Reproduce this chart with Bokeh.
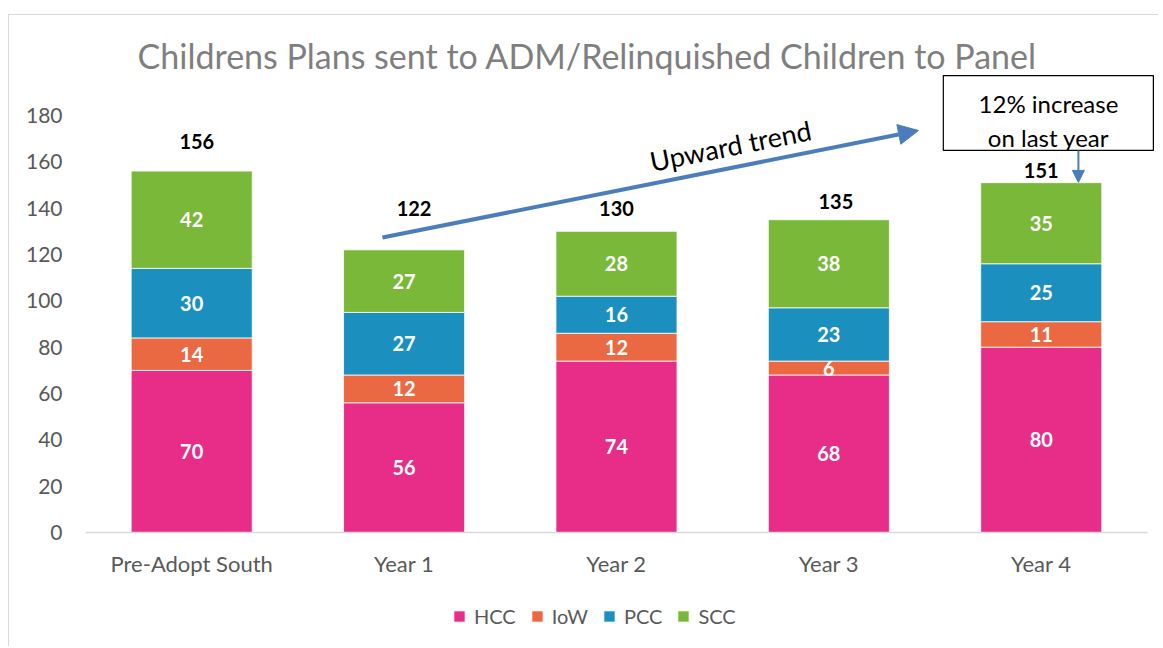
import numpy as np
from bokeh.plotting import figure
from bokeh.models import (ColumnDataSource, Range1d, FixedTicker, Arrow, NormalHead,
                          Legend, LegendItem)
from bokeh.core.properties import value
from bokeh.embed import file_html
from bokeh.resources import INLINE

# ---------------- data ----------------
categories = ["Pre-Adopt South", "Year 1", "Year 2", "Year 3", "Year 4"]
series = ["HCC", "IoW", "PCC", "SCC"]
hcc = [70, 56, 74, 68, 80]
iow = [14, 12, 12, 6, 11]
pcc = [30, 27, 16, 23, 25]
scc = [42, 27, 28, 38, 35]
totals = [156, 122, 130, 135, 151]
y_ticks = [0, 20, 40, 60, 80, 100, 120, 140, 160, 180]
title_text = "Childrens Plans sent to ADM/Relinquished Children to Panel"
trend_text = "Upward trend"
box_lines = ["12% increase", "on last year"]

# ---------------- style ----------------
colors = ["#E72D88", "#EA6842", "#1B90BE", "#7AB839"]
FONT = "Lato"
ARROW_BLUE = "#4A7EBB"
BAR_W = 0.57
# per-bar label nudges (Excel placed totals by hand)
tot_dx = [0.024, 0.047, 0.0, 0.033, 0.0]
tot_dy = [12.7, 17.8, 9.8, 7.9, 5.2]

x = [i + 0.5 for i in range(len(categories))]

p = figure(width=1150, height=632, title=None, output_backend="svg",
           toolbar_location=None, x_range=Range1d(0, 5.038), y_range=Range1d(-49.6, 222.7),
           min_border_left=76, min_border_right=4, min_border_top=1, min_border_bottom=0)
p.outline_line_color = None
p.xgrid.grid_line_color = None
p.ygrid.grid_line_color = None
p.background_fill_color = "white"
p.border_fill_color = "white"
p.styles = {"margin-left": "8px", "margin-top": "14px",
            "border-left": "1px solid #D9D9D9", "border-top": "1px solid #D9D9D9"}

src = ColumnDataSource(dict(x=x, HCC=hcc, IoW=iow, PCC=pcc, SCC=scc))
rs = p.vbar_stack(series, x="x", width=BAR_W, color=colors, source=src,
                  line_color="white", line_width=0.8)

# baseline (category axis line)
p.segment(x0=[0], y0=[0], x1=[5], y1=[0], line_color="#D9D9D9", line_width=1.5)

# segment labels
vals = np.array([hcc, iow, pcc, scc], dtype=float)
cum = np.cumsum(vals, axis=0)
mids = cum - vals / 2
lx, ly, lt = [], [], []
for s in range(vals.shape[0]):
    for i in range(vals.shape[1]):
        lx.append(x[i]); ly.append(mids[s, i]); lt.append(str(int(vals[s, i])))
p.text(x=lx, y=ly, text=lt, text_align="center", text_baseline="middle",
       text_color="white", text_font=value(FONT), text_font_style="bold",
       text_font_size="20px")

# totals
p.text(x=[xi + d for xi, d in zip(x, tot_dx)], y=[t + d for t, d in zip(totals, tot_dy)],
       text=[str(t) for t in totals], text_align="center", text_baseline="middle",
       text_color="black", text_font=value(FONT), text_font_style="bold",
       text_font_size="20px")

# title
p.text(x=[2.363], y=[205.9], text=[title_text], text_align="center",
       text_baseline="middle", text_color="#7F7F7F", text_font=value(FONT),
       text_font_size="34px")

# upward trend arrow + label
p.add_layout(Arrow(x_start=1.398, y_start=127.3, x_end=3.922, y_end=173.5,
                   line_color=ARROW_BLUE, line_width=4,
                   end=NormalHead(size=20, fill_color=ARROW_BLUE, line_color=ARROW_BLUE)))
p.text(x=[3.037], y=[167.0], text=[trend_text], angle=0.197, text_align="center",
       text_baseline="middle", text_color="black", text_font=value(FONT),
       text_font_size="27px")

# callout box
p.quad(left=[4.039], right=[5.028], top=[197.2], bottom=[164.9],
       fill_color="white", line_color="black", line_width=1.2)
p.text(x=[4.534, 4.534], y=[185.2, 170.5], text=box_lines, text_align="center",
       text_baseline="middle", text_color="black", text_font=value(FONT),
       text_font_size="24px")
p.add_layout(Arrow(x_start=4.675, y_start=164.9, x_end=4.675, y_end=151.1,
                   line_color=ARROW_BLUE, line_width=2,
                   end=NormalHead(size=12, fill_color=ARROW_BLUE, line_color=ARROW_BLUE)))

# axes
p.xaxis.ticker = FixedTicker(ticks=x)
p.xaxis.major_label_overrides = {xi: c for xi, c in zip(x, categories)}
p.xaxis.fixed_location = 0
p.yaxis.ticker = FixedTicker(ticks=y_ticks)
for ax in (p.xaxis, p.yaxis):
    ax.axis_line_color = None
    ax.major_tick_line_color = None
    ax.minor_tick_line_color = None
    ax.major_label_text_color = "#595959"
    ax.major_label_text_font = FONT
p.xaxis.major_label_text_font_size = "22px"
p.yaxis.major_label_text_font_size = "21px"
p.xaxis.major_label_standoff = 11
p.yaxis.major_label_standoff = 17

# legend
legend = Legend(items=[LegendItem(label=s, renderers=[r]) for s, r in zip(series, rs)],
                orientation="horizontal", location=(367, 19),
                glyph_width=14, glyph_height=14, label_standoff=8, spacing=14,
                padding=0, margin=0, border_line_color=None, background_fill_alpha=0,
                label_text_font=FONT, label_text_font_size="20px",
                label_text_color="#595959", label_height=20)
p.add_layout(legend, "center")

open("out.html", "w").write(file_html(p, INLINE))
